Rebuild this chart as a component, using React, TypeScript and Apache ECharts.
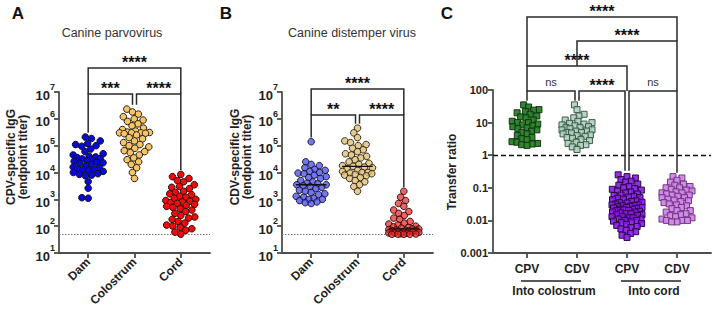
import React, { useEffect, useRef } from 'react';
import * as echarts from 'echarts';

// ---------------- data ----------------
const titerGroups = ['Dam', 'Colostrum', 'Cord'];
const ratioGroups = ['CPV', 'CDV', 'CPV', 'CDV'];
const ratioSuperGroups = ['Into colostrum', 'Into cord'];

const cpvDam = [210000, 185000, 150000, 120000, 110000, 100000, 95000, 75000, 60000, 50000, 45000, 40000, 38000, 36000, 33000, 32000, 30000, 28000, 26000, 24000, 23000, 22000, 20000, 18000, 16000, 15000, 13500, 13000, 12500, 12000, 11000, 10000, 9000, 8500, 8000, 7500, 4600, 2600, 1150, 1100];
const cpvColostrum = [2300000, 1800000, 1500000, 1200000, 1000000, 900000, 800000, 650000, 550000, 450000, 400000, 350000, 320000, 310000, 300000, 300000, 300000, 290000, 280000, 250000, 200000, 180000, 150000, 130000, 110000, 100000, 90000, 80000, 65000, 60000, 55000, 45000, 35000, 30000, 25000, 20000, 15000, 10000, 6000];
const cpvCord = [8500, 7000, 6000, 5000, 4500, 3500, 3000, 2800, 2500, 2000, 1800, 1600, 1500, 1300, 1200, 1100, 1000, 900, 850, 800, 750, 700, 650, 600, 550, 500, 450, 400, 350, 300, 250, 220, 200, 180, 150, 130, 110, 100, 90, 80, 70, 60, 50];
const cdvDam = [140000, 25000, 20000, 18000, 15000, 13000, 12000, 11000, 10000, 9500, 9000, 8000, 7000, 6500, 6000, 5000, 4500, 4000, 3800, 3500, 3500, 3200, 3000, 2800, 2500, 2200, 2000, 1800, 1600, 1500, 1300, 1200, 1100, 1000, 1000, 900, 800, 750, 700];
const cdvColostrum = [450000, 300000, 200000, 150000, 130000, 110000, 100000, 80000, 70000, 60000, 50000, 45000, 40000, 35000, 30000, 25000, 22000, 20000, 18000, 17000, 16000, 15000, 14000, 12000, 11000, 10000, 10000, 9500, 9000, 8500, 8000, 7500, 6500, 6000, 5000, 4500, 3500, 3000, 2000];
const cdvCord = [2000, 1200, 900, 700, 550, 400, 350, 300, 250, 200, 180, 150, 130, 120, 110, 100, 95, 90, 85, 80, 78, 75, 72, 70, 70, 68, 66, 64, 62, 60, 58, 56, 55, 54, 52, 51, 50, 50, 50, 50];

const ratioCpvColostrum = [35, 30, 25, 24, 22, 20, 18, 16, 15, 14, 12, 11, 10, 10, 9, 8.5, 8, 7.5, 7, 6.5, 6, 5.5, 5, 4.5, 4, 3.5, 3.2, 3, 2.6, 2.5, 2.3, 2.2, 2.1, 2];
const ratioCdvColostrum = [35, 25, 18, 16, 14, 12, 11, 10, 9.5, 9, 8.5, 8, 7.5, 7, 7, 6.5, 6, 6, 5.5, 5.5, 5, 5, 4.8, 4.5, 4.2, 4, 3.8, 3.5, 3.3, 3, 2.8, 2.5, 2.3, 2.1, 2, 1.8, 1.5];
const ratioCpvCord = [0.25, 0.22, 0.2, 0.18, 0.16, 0.15, 0.13, 0.12, 0.11, 0.1, 0.095, 0.09, 0.085, 0.08, 0.075, 0.07, 0.065, 0.06, 0.058, 0.055, 0.052, 0.05, 0.048, 0.045, 0.043, 0.04, 0.038, 0.036, 0.035, 0.034, 0.032, 0.03, 0.03, 0.029, 0.028, 0.027, 0.026, 0.025, 0.025, 0.024, 0.023, 0.022, 0.022, 0.021, 0.02, 0.02, 0.019, 0.018, 0.018, 0.017, 0.016, 0.016, 0.015, 0.015, 0.014, 0.013, 0.013, 0.012, 0.012, 0.011, 0.011, 0.01, 0.01, 0.0095, 0.009, 0.0085, 0.008, 0.0075, 0.007, 0.0065, 0.006, 0.0055, 0.005, 0.0045, 0.004, 0.0035, 0.003];
const ratioCdvCord = [0.22, 0.2, 0.17, 0.15, 0.13, 0.12, 0.11, 0.1, 0.1, 0.09, 0.085, 0.08, 0.075, 0.07, 0.07, 0.065, 0.06, 0.06, 0.055, 0.05, 0.05, 0.045, 0.042, 0.04, 0.038, 0.035, 0.032, 0.03, 0.028, 0.025, 0.023, 0.02, 0.02, 0.018, 0.016, 0.015, 0.014, 0.013, 0.012, 0.011, 0.01, 0.01, 0.01, 0.009, 0.009];

const limitOfDetection = 50;
const ratioParity = 1;

const statsA = [
  { from: 0, to: 2, label: '****' },
  { from: 0, to: 1, label: '***' },
  { from: 1, to: 2, label: '****' },
];
const statsB = [
  { from: 0, to: 2, label: '****' },
  { from: 0, to: 1, label: '**' },
  { from: 1, to: 2, label: '****' },
];
const statsC = [
  { from: 0, to: 3, label: '****' },
  { from: 1, to: 3, label: '****' },
  { from: 0, to: 2, label: '****' },
  { from: 0, to: 1, label: 'ns' },
  { from: 1, to: 2, label: '****' },
  { from: 2, to: 3, label: 'ns' },
];

// ---------------- layout / style ----------------
const FONT = '"Liberation Sans", Arial, Helvetica, sans-serif';
const GRIDS = [
  { left: 59, top: 92, width: 151, height: 161 },
  { left: 282, top: 92, width: 151, height: 161 },
  { left: 493, top: 90, width: 218, height: 163 },
];
const X_RANGE = [[-0.63, 2.63], [-0.63, 2.63], [-0.68, 3.68]];
const BRACKET_LEVELS = [[68, 94, 94], [89, 115, 115], [17, 41, 66, 91, 91, 91]];
const AXIS_COLOR = '#4d4d4d';
const INK = '#1e1e1e';

const panelA = {
  groups: [cpvDam, cpvColostrum, cpvCord],
  fills: ['#0a0ad8', '#f6c565', '#f50a0a'],
  borders: ['#10102a', '#2a2010', '#2a0a0a'],
};
const panelB = {
  groups: [cdvDam, cdvColostrum, cdvCord],
  fills: ['rgba(80,80,232,0.78)', 'rgba(222,190,118,0.78)', 'rgba(232,40,40,0.72)'],
  borders: ['rgba(15,15,40,0.9)', 'rgba(40,30,10,0.9)', 'rgba(45,5,5,0.9)'],
};
const panelC = {
  groups: [ratioCpvColostrum, ratioCdvColostrum, ratioCpvCord, ratioCdvCord],
  fills: ['rgba(30,125,30,0.92)', 'rgba(172,206,186,0.85)', 'rgba(136,24,230,0.9)', 'rgba(210,125,236,0.9)'],
  borders: ['#173517', '#3c5a4a', '#2a0846', '#6b3a7a'],
};

// beeswarm with a maximum half-width; overlaps allowed when the column is full
function swarm(ys: number[], d: number, hw: number): number[] {
  const order = ys.map((_, i) => i).sort((a, b) => ys[b] - ys[a]);
  const placed: { x: number; y: number }[] = [];
  const dx = new Array(ys.length).fill(0);
  for (const i of order) {
    const y = ys[i];
    const cands = [0];
    for (const p of placed) {
      const dy = Math.abs(p.y - y);
      if (dy < d) {
        const off = Math.sqrt(d * d - dy * dy);
        cands.push(p.x + off, p.x - off);
      }
    }
    cands.sort((a, b) => Math.abs(a) - Math.abs(b) || a - b);
    let chosen: number | null = null;
    for (const c of cands) {
      if (Math.abs(c) > hw) continue;
      if (placed.every((p) => (p.x - c) ** 2 + (p.y - y) ** 2 >= d * d - 1e-6)) {
        chosen = c;
        break;
      }
    }
    if (chosen === null) {
      let bestScore = -1;
      for (let c = -hw; c <= hw + 1e-9; c += 0.5) {
        let mn = Infinity;
        for (const p of placed) mn = Math.min(mn, (p.x - c) ** 2 + (p.y - y) ** 2);
        if (mn > bestScore + 1e-6 || (Math.abs(mn - bestScore) < 1e-6 && Math.abs(c) < Math.abs(chosen ?? 99))) {
          bestScore = mn;
          chosen = c;
        }
      }
    }
    dx[i] = chosen ?? 0;
    placed.push({ x: dx[i], y });
  }
  return dx;
}

function median(v: number[]): number {
  const s = [...v].sort((a, b) => a - b);
  const m = Math.floor(s.length / 2);
  return s.length % 2 ? s[m] : Math.sqrt(s[m - 1] * s[m]);
}

const axisLineStyle = { color: AXIS_COLOR, width: 1.8 };

function xAxisFor(k: number, names: string[], rotate: number) {
  const idx = names.map((_, i) => i);
  return {
    type: 'value',
    gridIndex: k,
    min: X_RANGE[k][0],
    max: X_RANGE[k][1],
    splitLine: { show: false },
    axisLine: { show: true, onZero: false, lineStyle: axisLineStyle },
    axisTick: { show: true, customValues: idx, length: 5, lineStyle: axisLineStyle },
    axisLabel: {
      customValues: idx,
      formatter: (v: number) => names[Math.round(v)] ?? '',
      rotate,
      margin: rotate ? 7 : 10,
      color: INK,
      fontFamily: FONT,
      fontWeight: 'bold',
      fontSize: 12,
    },
  };
}

function yLogAxis(k: number, min: number, max: number, sup: boolean) {
  return {
    type: 'log',
    gridIndex: k,
    logBase: 10,
    min,
    max,
    splitLine: { show: false },
    minorTick: { show: false },
    axisLine: { show: true, onZero: false, lineStyle: axisLineStyle },
    axisTick: { show: true, length: 5, lineStyle: axisLineStyle },
    axisLabel: sup
      ? {
          margin: 4,
          formatter: (v: number) => `{b|10}{s|${Math.round(Math.log10(v))}}`,
          rich: {
            b: { fontSize: 13, fontWeight: 'bold', fontFamily: FONT, color: INK, lineHeight: 19, verticalAlign: 'bottom' },
            s: { fontSize: 9, fontWeight: 'bold', fontFamily: FONT, color: INK, lineHeight: 12, verticalAlign: 'top' },
          },
        }
      : {
          margin: 5,
          formatter: (v: number) => String(Number(v.toPrecision(3))),
          fontSize: 11,
          fontWeight: 'bold',
          fontFamily: FONT,
          color: INK,
        },
  };
}

export default function App() {
  const ref = useRef<HTMLDivElement>(null);
  useEffect(() => {
    const el = ref.current!;
    const chart = echarts.init(el, null, { renderer: 'svg' });
    chart.setOption({
      animation: false,
      grid: GRIDS.map((g) => ({ ...g, containLabel: false })),
      xAxis: [xAxisFor(0, titerGroups, 45), xAxisFor(1, titerGroups, 45), xAxisFor(2, ratioGroups, 0)],
      yAxis: [yLogAxis(0, 10, 1e7, true), yLogAxis(1, 10, 1e7, true), yLogAxis(2, 0.001, 100, false)],
      series: [0, 1, 2].map((k) => ({ id: 'ph' + k, type: 'scatter', xAxisIndex: k, yAxisIndex: k, data: [] })),
    });

    const px = (k: number, x: number, y: number) =>
      chart.convertToPixel({ xAxisIndex: k, yAxisIndex: k } as any, [x, y]) as number[];

    const series: any[] = [];
    const graphics: any[] = [];

    const panels = [
      { k: 0, p: panelA, symbol: 'circle', size: 6.6, gap: 6.3, hw: 15, stats: statsA, medians: false },
      { k: 1, p: panelB, symbol: 'circle', size: 6.6, gap: 6.0, hw: 15, stats: statsB, medians: true },
      { k: 2, p: panelC, symbol: 'rect', size: 6, gap: 5.4, hw: 15, stats: statsC, medians: false },
    ];

    panels.forEach(({ k, p, symbol, size, gap, hw, stats, medians }) => {
      const yRef = p.groups[0][0];
      const unit = px(k, 1, yRef)[0] - px(k, 0, yRef)[0];
      const gx: number[] = [];
      const tops: number[] = [];
      p.groups.forEach((vals, g) => {
        const ys = vals.map((v) => px(k, g, v)[1]);
        const dx = swarm(ys, gap, hw);
        gx.push(px(k, g, yRef)[0]);
        tops.push(Math.min(...ys) - size / 2 - 1);
        series.push({
          id: `s${k}_${g}`,
          type: 'scatter',
          xAxisIndex: k,
          yAxisIndex: k,
          symbol,
          symbolSize: size,
          itemStyle: { color: p.fills[g], borderColor: p.borders[g], borderWidth: 1, opacity: 1 },
          emphasis: { disabled: true },
          data: vals.map((v, i) => [g + dx[i] / unit, v]),
          z: 3,
          markLine:
            g === 0
              ? {
                  silent: true,
                  symbol: 'none',
                  label: { show: false },
                  lineStyle:
                    k === 2
                      ? { type: [5, 3], color: '#111', width: 1.4 }
                      : { type: [1.5, 1.5], color: '#777', width: 1.2 },
                  data: [{ yAxis: k === 2 ? ratioParity : limitOfDetection }],
                  z: 2,
                }
              : undefined,
        });
        if (medians) {
          const m = median(vals);
          series.push({
            id: `m${k}_${g}`,
            type: 'line',
            xAxisIndex: k,
            yAxisIndex: k,
            symbol: 'none',
            silent: true,
            lineStyle: { color: '#111', width: 1.3 },
            data: [[g - 0.33, m], [g + 0.33, m]],
            z: 4,
          });
        }
      });

      // significance brackets
      const levels = BRACKET_LEVELS[k];
      stats.forEach((br, i) => {
        const L = levels[i];
        const lo = Math.min(br.from, br.to);
        const hi = Math.max(br.from, br.to);
        const ends = [lo, hi].map((g) => {
          let x = gx[g];
          const shares = stats.some((o, m) => m !== i && levels[m] === L && (o.from === g || o.to === g));
          if (shares) x += g === lo ? 2 : -2;
          let best = Infinity;
          stats.forEach((o, m) => {
            if (levels[m] > L && Math.min(o.from, o.to) <= g && g <= Math.max(o.from, o.to) && levels[m] < best) best = levels[m];
          });
          const end = best < Infinity ? best : tops[g];
          return { x, end };
        });
        graphics.push({
          type: 'polyline',
          silent: true,
          shape: { points: [[ends[0].x, ends[0].end], [ends[0].x, L], [ends[1].x, L], [ends[1].x, ends[1].end]] },
          style: { stroke: '#2a2a2a', lineWidth: 1.5, fill: 'none' },
          z: 10,
        });
        const isNs = br.label === 'ns';
        graphics.push({
          type: 'text',
          silent: true,
          x: (ends[0].x + ends[1].x) / 2,
          y: isNs ? L - 9 : L - 6,
          style: {
            text: br.label,
            fill: isNs ? '#333' : '#111',
            font: isNs ? `11px ${FONT}` : `bold 16px ${FONT}`,
            align: 'center',
            verticalAlign: 'middle',
          },
          z: 10,
        });
      });

      if (k === 2) {
        ratioSuperGroups.forEach((name, j) => {
          const a = gx[j * 2];
          const b = gx[j * 2 + 1];
          graphics.push({
            type: 'line',
            silent: true,
            shape: { x1: a - 6, y1: 281, x2: b + 4, y2: 281 },
            style: { stroke: '#222', lineWidth: 1.3 },
          });
          graphics.push({
            type: 'text',
            silent: true,
            x: (a + b) / 2 + 2,
            y: 291,
            style: { text: name, fill: INK, font: `bold 12px ${FONT}`, align: 'center', verticalAlign: 'middle' },
          });
        });
      }
    });

    const txt = (text: string, x: number, y: number, font: string, fill = INK, rot = 0) => ({
      type: 'text',
      silent: true,
      x,
      y,
      rotation: rot,
      style: { text, fill, font, align: 'center', verticalAlign: 'middle' },
    });
    graphics.push(
      txt('A', 18, 13, `bold 17px ${FONT}`, '#111'),
      txt('B', 226, 13, `bold 17px ${FONT}`, '#111'),
      txt('C', 447, 13, `bold 17px ${FONT}`, '#111'),
      txt('Canine parvovirus', 112, 33, `12.5px ${FONT}`, '#333'),
      txt('Canine distemper virus', 352, 33, `12.5px ${FONT}`, '#333'),
      txt('CPV-specific IgG', 11, 157, `bold 12px ${FONT}`, INK, Math.PI / 2),
      txt('(endpoint titer)', 23, 157, `bold 12px ${FONT}`, INK, Math.PI / 2),
      txt('CDV-specific IgG', 235, 157, `bold 12px ${FONT}`, INK, Math.PI / 2),
      txt('(endpoint titer)', 247, 157, `bold 12px ${FONT}`, INK, Math.PI / 2),
      txt('Transfer ratio', 452, 172, `bold 12px ${FONT}`, INK, Math.PI / 2),
    );

    chart.setOption({ series, graphic: graphics });
    return () => chart.dispose();
  }, []);

  return <div ref={ref} style={{ position: 'fixed', left: 0, top: 0, width: 714, height: 314, background: '#fff' }} />;
}
